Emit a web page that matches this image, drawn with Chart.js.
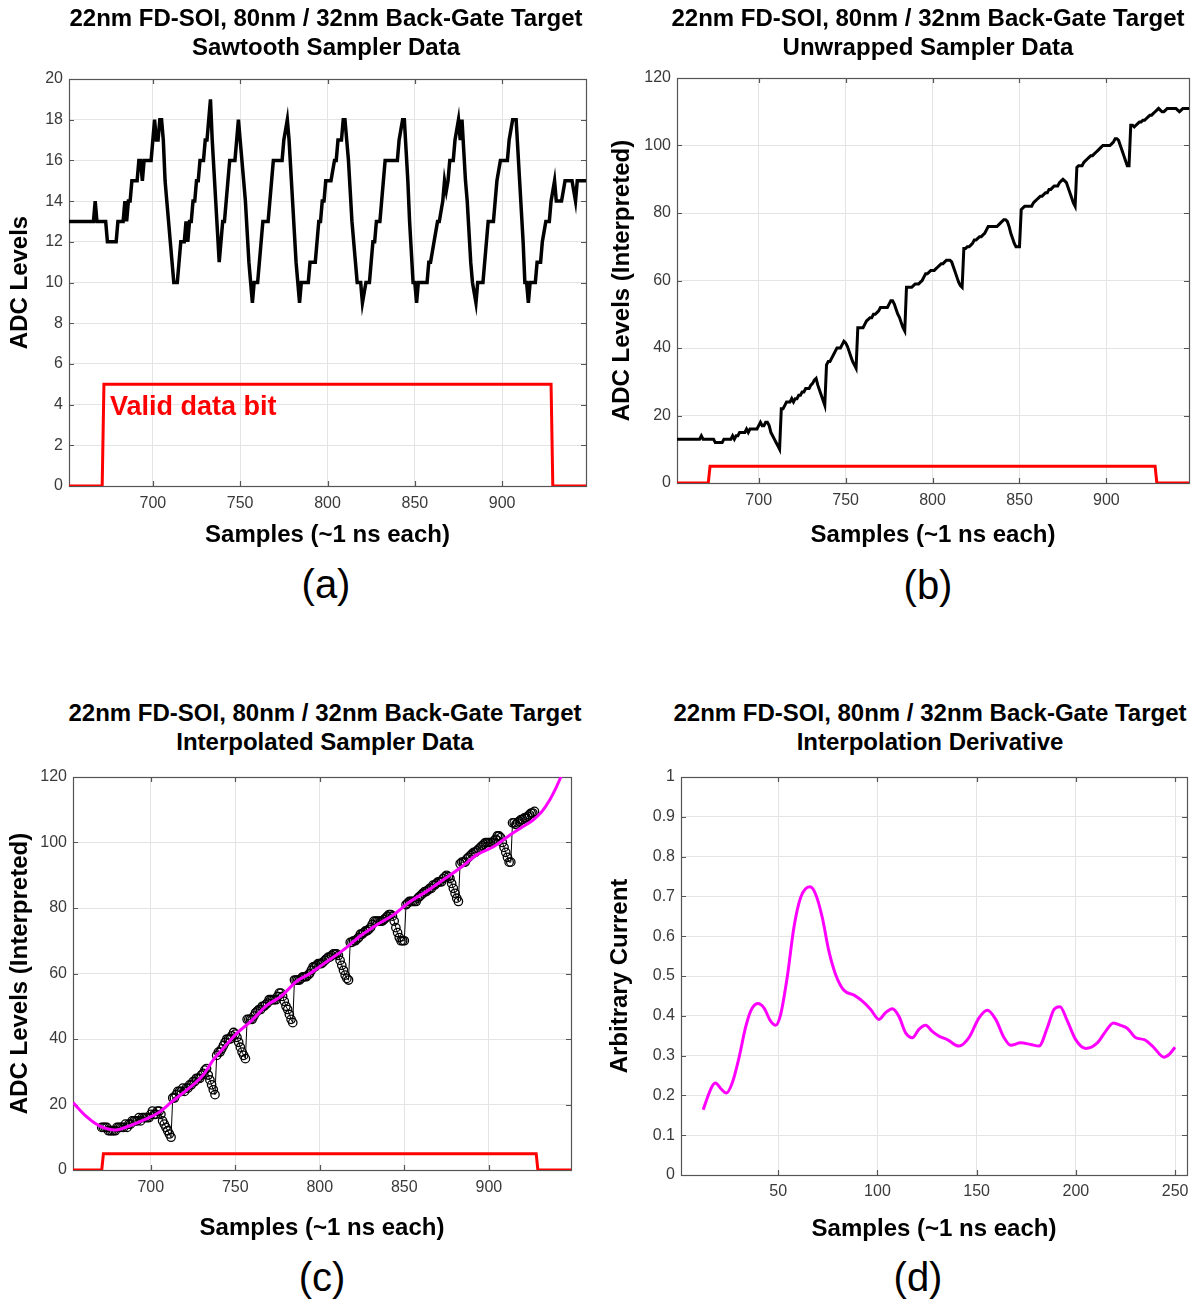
<!DOCTYPE html>
<html><head><meta charset="utf-8">
<script src="https://cdn.jsdelivr.net/npm/chart.js@4.4.0/dist/chart.umd.min.js"></script>
<style>
html,body{margin:0;padding:0;background:#fff;}
body{width:1197px;height:1302px;position:relative;overflow:hidden;font-family:"Liberation Sans",Arial,sans-serif;}
canvas{position:absolute;}
.ttl{position:absolute;font-weight:bold;font-size:24px;line-height:28.5px;text-align:center;color:#000;white-space:nowrap;transform:translateX(-50%);}
.sub{position:absolute;font-size:40px;line-height:48px;color:#000;white-space:nowrap;transform:translateX(-50%);}
</style></head><body>
<canvas id="ca"></canvas>
<canvas id="cb"></canvas>
<canvas id="cc"></canvas>
<canvas id="cd"></canvas>
<div class="ttl" style="left:326px;top:4px">22nm FD-SOI, 80nm / 32nm Back-Gate Target<br>Sawtooth Sampler Data</div>
<div class="ttl" style="left:928px;top:4px">22nm FD-SOI, 80nm / 32nm Back-Gate Target<br>Unwrapped Sampler Data</div>
<div class="ttl" style="left:325px;top:699px">22nm FD-SOI, 80nm / 32nm Back-Gate Target<br>Interpolated Sampler Data</div>
<div class="ttl" style="left:930px;top:699px">22nm FD-SOI, 80nm / 32nm Back-Gate Target<br>Interpolation Derivative</div>
<div class="sub" style="left:326px;top:560px">(a)</div>
<div class="sub" style="left:928px;top:561px">(b)</div>
<div class="sub" style="left:322px;top:1253px">(c)</div>
<div class="sub" style="left:918px;top:1253px">(d)</div>
<script>
// ---------------- DATA ----------------
const sampleStart = 652; // first sample index of the arrays below (1 value per sample)
const sawtooth = [
 13,13,13,13,13,13,13,13,13,13,
 13,13,13,13,13,14,13,13,13,13,
 13,13,12,12,12,12,12,12,13,13,
 13,13,14,13,14,14,15,15,15,15,
 16,16,15,16,16,16,16,16,17,18,
 17,17,18,18,17,15,14,13,12,11,
 10,10,10,11,12,12,12,13,12,13,
 13,14,14,15,15,16,16,16,17,17,
 18,19,17,15.5,14,12.5,11,12,13,13,
 14,15,16,16,16,16,17,18,17,16,
 15,14,12.5,11,10,9,10,10,10,11,
 12,13,13,13,13,14,15,16,16,16,
 16,16,16,17,17.5,18,17,15.5,14,12.5,
 11,10,9,10,10,10,10,10,11,11,
 11,11,12,13,13,14,14,15,15,15,
 15,15.5,16,16,17,17,17,18,18,17,
 16,14.5,13,12,11,10,10,10,9,9.5,
 10,10,10,11,12,12,13,13,13,14,
 15,16,16,16,16,16,16,16,16,17,
 17.5,18,18,16.5,15,13,11.5,10,10,9,
 10,10,10,10,10,10,11,11,11.5,12,
 12.5,13,13,13.5,14,15,14.5,15,16,16,
 16,17,17.5,18,17,18,16.5,15,14,12.5,
 11,10,9.5,9,10,10,10,10,11,12,
 13,13,13,13,14,15,15.5,16,16,16,
 16,16,17,17.5,18,18,18,16.5,15,13.5,
 12,10,10,9,10,10,10,10,11,11,
 11,12,12.5,13,13,13,14,14.5,15,14,
 14,14,14,14.5,15,15,15,15,15,14.5,
 14,15,15,15,15,15,15
];
const unwrapped = [
 13,13,13,13,13,13,13,13,13,13,
 13,13,13,13,13,14,13,13,13,13,
 13,13,13,12,12,12,12,12,13,13,
 13,13,13,14,13,14,14,15,15,15,
 15,16,15,16,16,16,16,16,17,18,
 17,17,18,18,17,15,14,13,12,11,
 10,22,22,23,24,24,24,25,24,25,
 25,26,26,27,27,28,28,28,29,29.5,
 30.5,31,29,27.5,26,24.5,23,35,36,36,
 37,38,39,40,40,40,41,42,41.5,40.5,
 39,37.5,36,35,34,46,46,46,46,47,
 48,48.5,49,49,50,50,50.5,51,52,52,
 52,52,52,53,54,54,53,51.5,50,49,
 47.5,46,45,58,58,58,58,58.5,59,59,
 59,59.5,60,61,62,62,62.5,63,63,63,
 63.5,64,64.5,65,65,65.5,66,66,66,65.5,
 64,62.5,61,59.5,58.5,58,69.5,69.5,70,70,
 70.5,71,72,72,72.5,73,73,73.5,74,75,
 76,76,76,76,76,76,76.5,77,77.5,78,
 78,77.5,76,74,72.5,71,70,70,70,81,
 81.5,82,82,82,82,82,83,83.5,84,84.5,
 85,85,85.5,86,86,87,87,87.5,88,88,
 88,89,89.5,90,89.5,89,87.5,86,84.5,83,
 82,93.5,94,94,94,95,95.5,96,96.5,97,
 97,97.5,98,98.5,99,99.5,100,100,100,100,
 100,100.5,101,102,102,101.5,100,98.5,97,95.5,
 94,94,106,106,105.5,106,106.5,107,107,107.5,
 107.5,108,108.5,109,109,109.5,110,110.5,111,110.5,
 110,110,110.5,111,111,111,111,111,111,110.5,
 110,110.5,111,111,111,111,111
];
const validX = [652, 671, 672, 928, 929, 949];
const validY = [0, 0, 5, 5, 0, 0];
const circleFirst = 671, circleLast = 927;   // samples shown as circles in (c)
const fitX = [654, 662, 670, 679, 686, 696, 705.5, 711.5, 717.5, 725, 731, 737, 743, 751, 759, 769, 777, 786.5, 794.5, 804, 814, 823.5, 833.5, 843.5, 853.5, 863, 873, 883, 893, 903, 912.5, 920, 926, 931, 936, 940, 943];
const fitY = [20.6, 16.3, 13.4, 12.2, 13.2, 15.3, 17.8, 20.4, 22.9, 26, 29, 33.6, 37.2, 41.8, 45.3, 50.4, 53, 57.7, 60.1, 63.6, 67.2, 71.3, 74.8, 77.9, 82, 85, 88.6, 92.2, 96.3, 98.8, 102.3, 104.8, 106.8, 109.2, 113, 117, 120.5];
const derivX = [12.2, 14.2, 16.7, 18.4, 20.9, 23.9, 26.8, 30.2, 33.5, 36.1, 39.7, 42.8, 46.1, 48.7, 51.2, 54.5, 57.9, 61.3, 66.0, 68.8, 72.2, 75.5, 78.9, 83.1, 88.2, 92.4, 96.6, 100.8, 104.1, 107.5, 110.8, 114.2, 117.6, 120.9, 124.3, 127.6, 131.0, 135.2, 141.1, 146.1, 151.2, 155.4, 159.6, 163.8, 167.1, 172.2, 177.2, 181.4, 185.6, 189.0, 192.0, 195.7, 199.9, 205.0, 210.8, 215.0, 218.9, 222.6, 226.0, 230.2, 234.4, 238.6, 244.5, 247.0, 250.0];
const derivY = [0.164, 0.193, 0.223, 0.231, 0.218, 0.206, 0.231, 0.294, 0.370, 0.412, 0.431, 0.420, 0.387, 0.376, 0.403, 0.496, 0.622, 0.697, 0.724, 0.706, 0.647, 0.563, 0.504, 0.464, 0.452, 0.437, 0.416, 0.391, 0.408, 0.418, 0.399, 0.357, 0.345, 0.366, 0.376, 0.361, 0.349, 0.340, 0.324, 0.345, 0.395, 0.414, 0.391, 0.345, 0.326, 0.332, 0.328, 0.324, 0.370, 0.416, 0.423, 0.387, 0.340, 0.318, 0.332, 0.361, 0.382, 0.376, 0.368, 0.345, 0.340, 0.324, 0.296, 0.303, 0.321];
const sampleTicks = [700, 750, 800, 850, 900];
const sawTicks = [0, 2, 4, 6, 8, 10, 12, 14, 16, 18, 20];
const levelTicks = [0, 20, 40, 60, 80, 100, 120];
const derivXTicks = [50, 100, 150, 200, 250];
const derivYTicks = [0, 0.1, 0.2, 0.3, 0.4, 0.5, 0.6, 0.7, 0.8, 0.9, 1];

// ---------------- DRAWING ----------------
Chart.defaults.font.family = '"Liberation Sans", Arial, sans-serif';
const gridColor = '#e4e4e4';
const tickColor = '#3a3a3a';
const boxColor = '#555555';

const toPts = (arr) => arr.map((v, i) => ({x: sampleStart + i, y: v}));
const zipPts = (xs, ys) => xs.map((x, i) => ({x, y: ys[i]}));

const boxPlugin = {
  id: 'box',
  beforeDatasetsDraw(chart) {
    const {ctx, chartArea: a, scales: {x, y}} = chart;
    ctx.save();
    ctx.strokeStyle = boxColor;
    ctx.lineWidth = 1.2;
    ctx.beginPath();
    const L = 5;
    x.ticks.forEach(t => {
      const px = Math.round(x.getPixelForValue(t.value)) + 0.5;
      ctx.moveTo(px, a.bottom); ctx.lineTo(px, a.bottom - L);
      ctx.moveTo(px, a.top); ctx.lineTo(px, a.top + L);
    });
    y.ticks.forEach(t => {
      const py = Math.round(y.getPixelForValue(t.value)) + 0.5;
      ctx.moveTo(a.left, py); ctx.lineTo(a.left + L, py);
      ctx.moveTo(a.right, py); ctx.lineTo(a.right - L, py);
    });
    ctx.stroke();
    ctx.strokeRect(Math.round(a.left) + 0.5, Math.round(a.top) + 0.5, Math.round(a.right - a.left), Math.round(a.bottom - a.top));
    ctx.restore();
  }
};

function makeChart(id, g, datasets, xs, ys, extra) {
  const cv = document.getElementById(id);
  cv.width = g.W; cv.height = g.H;
  cv.style.left = g.L + 'px'; cv.style.top = g.T + 'px';
  cv.style.width = g.W + 'px'; cv.style.height = g.H + 'px';
  return new Chart(cv, {
    type: 'line',
    data: {datasets},
    options: {
      responsive: false, animation: false, devicePixelRatio: 1,
      layout: {padding: {left: 0, top: g.ct - g.T, right: g.L + g.W - g.cr, bottom: 0}},
      plugins: {legend: {display: false}, tooltip: {enabled: false}},
      scales: {
        x: {
          type: 'linear', min: xs.min, max: xs.max,
          afterBuildTicks: s => { s.ticks = xs.ticks.map(v => ({value: v})); },
          afterFit: s => { s.height = g.T + g.H - g.cb; },
          grid: {color: gridColor, lineWidth: 1, drawTicks: false},
          border: {display: false},
          ticks: {color: tickColor, font: {size: 16}, padding: xs.pad, maxRotation: 0, autoSkip: false,
                  callback: v => String(v)},
          title: {display: true, text: xs.title, color: '#000', font: {size: 24, weight: 'bold'}, padding: {top: 0, bottom: xs.tpad}}
        },
        y: {
          type: 'linear', min: ys.min, max: ys.max,
          afterBuildTicks: s => { s.ticks = ys.ticks.map(v => ({value: v})); },
          afterFit: s => { s.width = g.cl - g.L; },
          grid: {color: gridColor, lineWidth: 1, drawTicks: false},
          border: {display: false},
          ticks: {color: tickColor, font: {size: 16}, padding: 6, autoSkip: false,
                  callback: v => String(v)},
          title: {display: true, text: ys.title, color: '#000', font: {size: 24, weight: 'bold'}, padding: {top: ys.tpad, bottom: 0}}
        }
      }
    },
    plugins: [boxPlugin].concat(extra || [])
  });
}

const lineDs = (data, color, width, order) => ({
  data, borderColor: color, borderWidth: width, pointRadius: 0, tension: 0, fill: false, order
});

const validLabel = {
  id: 'validLabel',
  afterDatasetsDraw(chart) {
    const {ctx, scales: {x, y}} = chart;
    ctx.save();
    ctx.fillStyle = '#ff0000';
    ctx.font = 'bold 27px "Liberation Sans", Arial, sans-serif';
    ctx.textBaseline = 'middle';
    ctx.textAlign = 'left';
    ctx.fillText('Valid data bit', x.getPixelForValue(675.5), y.getPixelForValue(3.85));
    ctx.restore();
  }
};

// (a)
makeChart('ca', {L: 0, T: 60, W: 596, H: 496, cl: 69, ct: 79, cr: 586, cb: 486},
  [lineDs(toPts(sawtooth), '#000000', 3.5, 1), lineDs(zipPts(validX, validY), '#ff0000', 3, 0)],
  {min: 652, max: 948, ticks: sampleTicks, pad: 8, title: 'Samples (~1 ns each)', tpad: 6.6},
  {min: 0, max: 20, ticks: sawTicks, title: 'ADC Levels', tpad: 5.6}, [validLabel]);

// (b)
makeChart('cb', {L: 600, T: 60, W: 597, H: 493, cl: 677, ct: 78, cr: 1189, cb: 483},
  [lineDs(toPts(unwrapped), '#000000', 3, 1), lineDs(zipPts(validX, validY), '#ff0000', 3, 0)],
  {min: 653, max: 947.5, ticks: sampleTicks, pad: 8, title: 'Samples (~1 ns each)', tpad: 3.6},
  {min: 0, max: 120, ticks: levelTicks, title: 'ADC Levels (Interpreted)', tpad: 7.6});

// (c)
const circlePts = toPts(unwrapped).filter(p => p.x >= circleFirst && p.x <= circleLast);
makeChart('cc', {L: 0, T: 760, W: 596, H: 490, cl: 73, ct: 777, cr: 571, cb: 1170},
  [
    {data: zipPts(fitX, fitY), borderColor: '#ff00ff', borderWidth: 3, pointRadius: 0, cubicInterpolationMode: 'monotone', fill: false, order: 0},
    {data: circlePts, borderColor: '#000000', borderWidth: 1, pointRadius: 4.2, pointBorderWidth: 1.3,
     pointBorderColor: '#000000', pointBackgroundColor: 'rgba(0,0,0,0)', tension: 0, fill: false, order: 1},
    lineDs(zipPts(validX, validY), '#ff0000', 3, 2)
  ],
  {min: 654, max: 948.6, ticks: sampleTicks, pad: 8, title: 'Samples (~1 ns each)', tpad: 7.6},
  {min: 0, max: 120, ticks: levelTicks, title: 'ADC Levels (Interpreted)', tpad: 5.6});

// (d)
makeChart('cd', {L: 600, T: 760, W: 597, H: 490, cl: 681, ct: 777, cr: 1187, cb: 1175},
  [{data: zipPts(derivX, derivY), borderColor: '#ff00ff', borderWidth: 3, pointRadius: 0, cubicInterpolationMode: 'monotone', fill: false}],
  {min: 1, max: 256, ticks: derivXTicks, pad: 7, title: 'Samples (~1 ns each)', tpad: 6.6},
  {min: 0, max: 1, ticks: derivYTicks, title: 'Arbitrary Current', tpad: 5.6});
</script>
</body></html>
